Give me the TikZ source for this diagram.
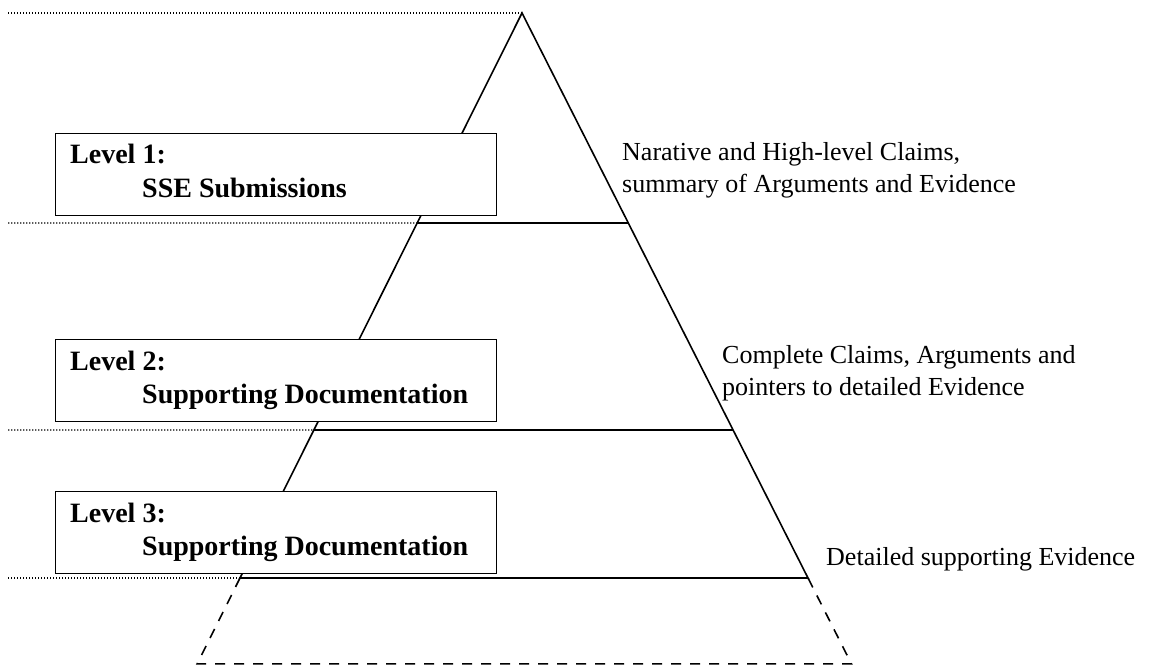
\documentclass[tikz,border=0pt]{standalone}
\usepackage{fontspec}
\setmainfont{Liberation Serif}
\usetikzlibrary{calc}
\begin{document}
\begin{tikzpicture}[x=1pt,y=-1pt,
    edge/.style={line width=1.6pt},
    guide/.style={line width=1.2pt,dash pattern=on 1.4pt off 1.6pt},
    lower/.style={line width=1.6pt,dash pattern=on 10pt off 9pt},
    levelbox/.style={draw,fill=white,line width=1pt,anchor=south west,inner sep=0pt,
      minimum width=441pt,minimum height=82pt},
    boxtext/.style={anchor=base west,inner sep=0pt,font=\fontsize{28}{30}\selectfont\bfseries},
    note/.style={anchor=north west,align=left,inner sep=0pt,font=\fontsize{26}{32.5}\selectfont}]
  \useasboundingbox (0,0) rectangle (1156,666);
  % pyramid corners
  \coordinate (apex) at (522,13);
  \coordinate (bl) at (240,578);
  \coordinate (br) at (808,578);
  \coordinate (l1) at ($(apex)!0.3717!(bl)$);
  \coordinate (r1) at ($(apex)!0.3717!(br)$);
  \coordinate (l2) at ($(apex)!0.738!(bl)$);
  \coordinate (r2) at ($(apex)!0.738!(br)$);
  \coordinate (dl) at ($(apex)!1.152!(bl)$);
  \coordinate (dr) at ($(apex)!1.152!(br)$);
  % dotted guides
  \draw[guide] (8,13) -- (apex);
  \draw[guide] (8,223) -- (l1);
  \draw[guide] (8,430) -- (l2);
  \draw[guide] (8,578) -- (bl);
  % pyramid
  \draw[edge] (bl) -- (apex) -- (br) -- cycle;
  \draw[edge] (l1) -- (r1);
  \draw[edge] (l2) -- (r2);
  \draw[lower] (bl) -- (dl) -- (dr) -- (br);
  % level boxes
  \node[levelbox] (boxone) at (55,216) {};
  \node[levelbox] (boxtwo) at (55,422) {};
  \node[levelbox] (boxthree) at (55,574) {};
  \node[boxtext] (lvlone) at (70,164) {Level 1:};
  \node[boxtext] (nameone) at (142,197) {SSE Submissions};
  \node[boxtext] (lvltwo) at (70,370) {Level 2:};
  \node[boxtext] (nametwo) at (142,403) {Supporting Documentation};
  \node[boxtext] (lvlthree) at (70,522) {Level 3:};
  \node[boxtext] (namethree) at (142,555) {Supporting Documentation};
  % descriptions
  \node[note] (noteone) at (622,142) {Narative and High-level Claims,\\summary of Arguments and Evidence};
  \node[note] (notetwo) at (722,345) {Complete Claims, Arguments and\\pointers to detailed Evidence};
  \node[note] (notethree) at (826,547) {Detailed supporting Evidence};
\end{tikzpicture}
\end{document}
